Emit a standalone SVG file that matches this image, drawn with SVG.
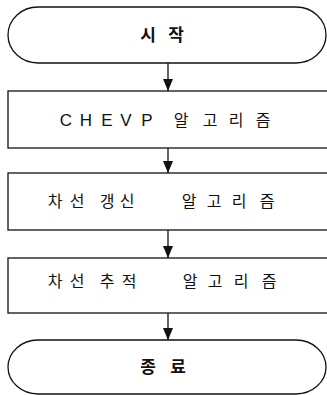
<svg xmlns="http://www.w3.org/2000/svg" width="327" height="395" viewBox="0 0 327 395">
<defs>
<style>
.shape{fill:#fff;stroke:#111;stroke-width:1.3}
.conn{stroke:#111;stroke-width:1.3;fill:none}
.t{font-family:"Noto Sans CJK KR","Noto Sans",sans-serif;font-size:16px;fill:#111;text-anchor:middle}
.b{font-weight:bold;font-size:17px}
.lat{font-family:"Liberation Sans",Arial,sans-serif;font-size:17px}
</style>
<marker id="ah" markerWidth="12" markerHeight="10" refX="12" refY="5" orient="auto" markerUnits="userSpaceOnUse" viewBox="0 0 12 10">
<path d="M0,0 L12,5 L0,10 Z" fill="#111"/>
</marker>
</defs>
<rect width="327" height="395" fill="#fff"/>
<g id="start">
<path class="shape" d="M38,7 H296 A30,28 0 0 1 296,63 H38 A30,28 0 0 1 38,7 Z"/>
<text class="t b" y="41"><tspan x="148">시</tspan><tspan x="176">작</tspan></text>
</g>
<g id="chevp">
<rect class="shape" x="8" y="91" width="330" height="57"/>
<text class="t" y="126"><tspan class="lat" x="66">C</tspan><tspan class="lat" x="86">H</tspan><tspan class="lat" x="107">E</tspan><tspan class="lat" x="126">V</tspan><tspan class="lat" x="147">P</tspan><tspan x="181">알</tspan><tspan x="210">고</tspan><tspan x="236">리</tspan><tspan x="263">즘</tspan></text>
</g>
<g id="update">
<rect class="shape" x="8" y="173" width="330" height="57"/>
<text class="t" y="207"><tspan x="55">차</tspan><tspan x="77">선</tspan><tspan x="107">갱</tspan><tspan x="127">신</tspan><tspan x="189">알</tspan><tspan x="214">고</tspan><tspan x="239">리</tspan><tspan x="267">즘</tspan></text>
</g>
<g id="track">
<rect class="shape" x="8" y="258" width="330" height="55"/>
<text class="t" y="287"><tspan x="55">차</tspan><tspan x="77">선</tspan><tspan x="107">추</tspan><tspan x="129">적</tspan><tspan x="190">알</tspan><tspan x="215">고</tspan><tspan x="241">리</tspan><tspan x="269">즘</tspan></text>
</g>
<g id="end">
<path class="shape" d="M38,340 H296 A30,27 0 0 1 296,394 H38 A30,27 0 0 1 38,340 Z"/>
<text class="t b" y="373"><tspan x="148">종</tspan><tspan x="178">료</tspan></text>
</g>
<g id="connectors">
<line class="conn" x1="168" y1="63" x2="168" y2="91" marker-end="url(#ah)"/>
<line class="conn" x1="168" y1="148" x2="168" y2="173" marker-end="url(#ah)"/>
<line class="conn" x1="168" y1="230" x2="168" y2="258" marker-end="url(#ah)"/>
<line class="conn" x1="168" y1="313" x2="168" y2="340" marker-end="url(#ah)"/>
</g>
</svg>
